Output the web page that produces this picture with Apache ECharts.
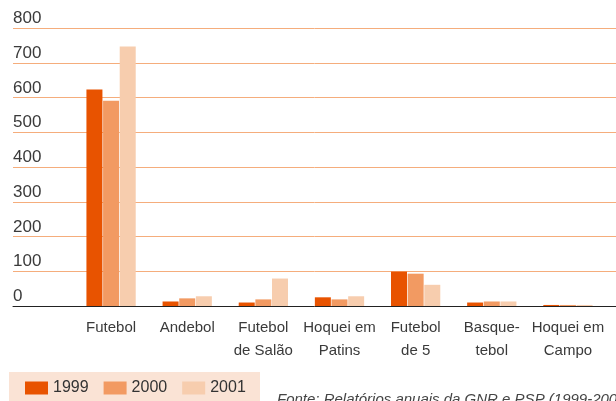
<!DOCTYPE html>
<html>
<head>
<meta charset="utf-8">
<script src="https://cdn.jsdelivr.net/npm/echarts@6/dist/echarts.min.js"></script>
<style>
  html, body { margin: 0; padding: 0; background: #fff; }
  #chart { width: 616px; height: 401px; }
</style>
</head>
<body>
<div id="chart"></div>
<script>
// modalidades
const categories = ['Futebol', 'Andebol', 'Futebol\nde Salão', 'Hoquei em\nPatins', 'Futebol\nde 5', 'Basque-\ntebol', 'Hoquei em\nCampo'];
const years = ['1999', '2000', '2001'];
const v1999 = [623, 13, 10, 25, 99, 10, 3];
const v2000 = [591, 22, 19, 19, 93, 13, 3];
const v2001 = [747, 28, 79, 28, 61, 13, 3];
const yTicks = [0, 100, 200, 300, 400, 500, 600, 700, 800];
const source = 'Fonte: Relatórios anuais da GNR e PSP (1999-2001)';

const colors = ['#e85300', '#f29a62', '#f7cdae'];
const font = "'Liberation Sans', Arial, sans-serif";

let chart = echarts.init(document.getElementById('chart'));

const option = {
    animation: false,
    textStyle: { fontFamily: font },
    color: colors,
    grid: [
        { left: 13, right: 0, top: 28, bottom: 95 },   // linhas de grelha
        { left: 73, right: 10, top: 28, bottom: 95 }   // barras
    ],
    xAxis: [
        {
            gridIndex: 0, type: 'category', data: [''],
            axisLine: { lineStyle: { color: '#222', width: 1 } },
            axisTick: { show: false }, axisLabel: { show: false }
        },
        {
            gridIndex: 1, type: 'category', data: categories,
            axisLine: { show: false }, axisTick: { show: false },
            axisLabel: {
                interval: 0, margin: 10, color: '#3a3a3a',
                fontSize: 15, lineHeight: 23, fontFamily: font
            }
        }
    ],
    yAxis: [
        {
            gridIndex: 0, type: 'value',
            min: yTicks[0], max: yTicks[yTicks.length - 1], interval: 100,
            axisLine: { show: false }, axisTick: { show: false },
            splitLine: { lineStyle: { color: '#f5ad7c', width: 1 } },
            axisLabel: {
                inside: true, margin: 0, color: '#3a3a3a',
                fontSize: 17, verticalAlign: 'bottom', lineHeight: 17,
                padding: [0, 0, 1, 0], fontFamily: font
            }
        },
        {
            gridIndex: 1, type: 'value', min: 0, max: 800, show: false
        }
    ],
    legend: {
        left: 25, top: 380, padding: 0,
        itemWidth: 23, itemHeight: 13, itemGap: 15,
        icon: 'rect',
        textStyle: { fontSize: 16, color: '#333', fontFamily: font },
        data: years
    },
    graphic: [
        {
            type: 'rect', z: -1, silent: true,
            shape: { x: 9, y: 372, width: 251, height: 40 },
            style: { fill: '#fae3d5' }
        },
        {
            type: 'text', left: 277, top: 392,
            style: {
                text: source, fill: '#444',
                font: 'italic 15px ' + font
            }
        }
    ],
    series: [
        { name: years[0], type: 'bar', xAxisIndex: 1, yAxisIndex: 1, data: v1999, barWidth: 16, barGap: '4%' },
        { name: years[1], type: 'bar', xAxisIndex: 1, yAxisIndex: 1, data: v2000, barWidth: 16, barGap: '4%' },
        { name: years[2], type: 'bar', xAxisIndex: 1, yAxisIndex: 1, data: v2001, barWidth: 16, barGap: '4%' }
    ]
};

chart.setOption(option);
window.addEventListener('resize', () => {
    chart.resize();
});
</script>
</body>
</html>
